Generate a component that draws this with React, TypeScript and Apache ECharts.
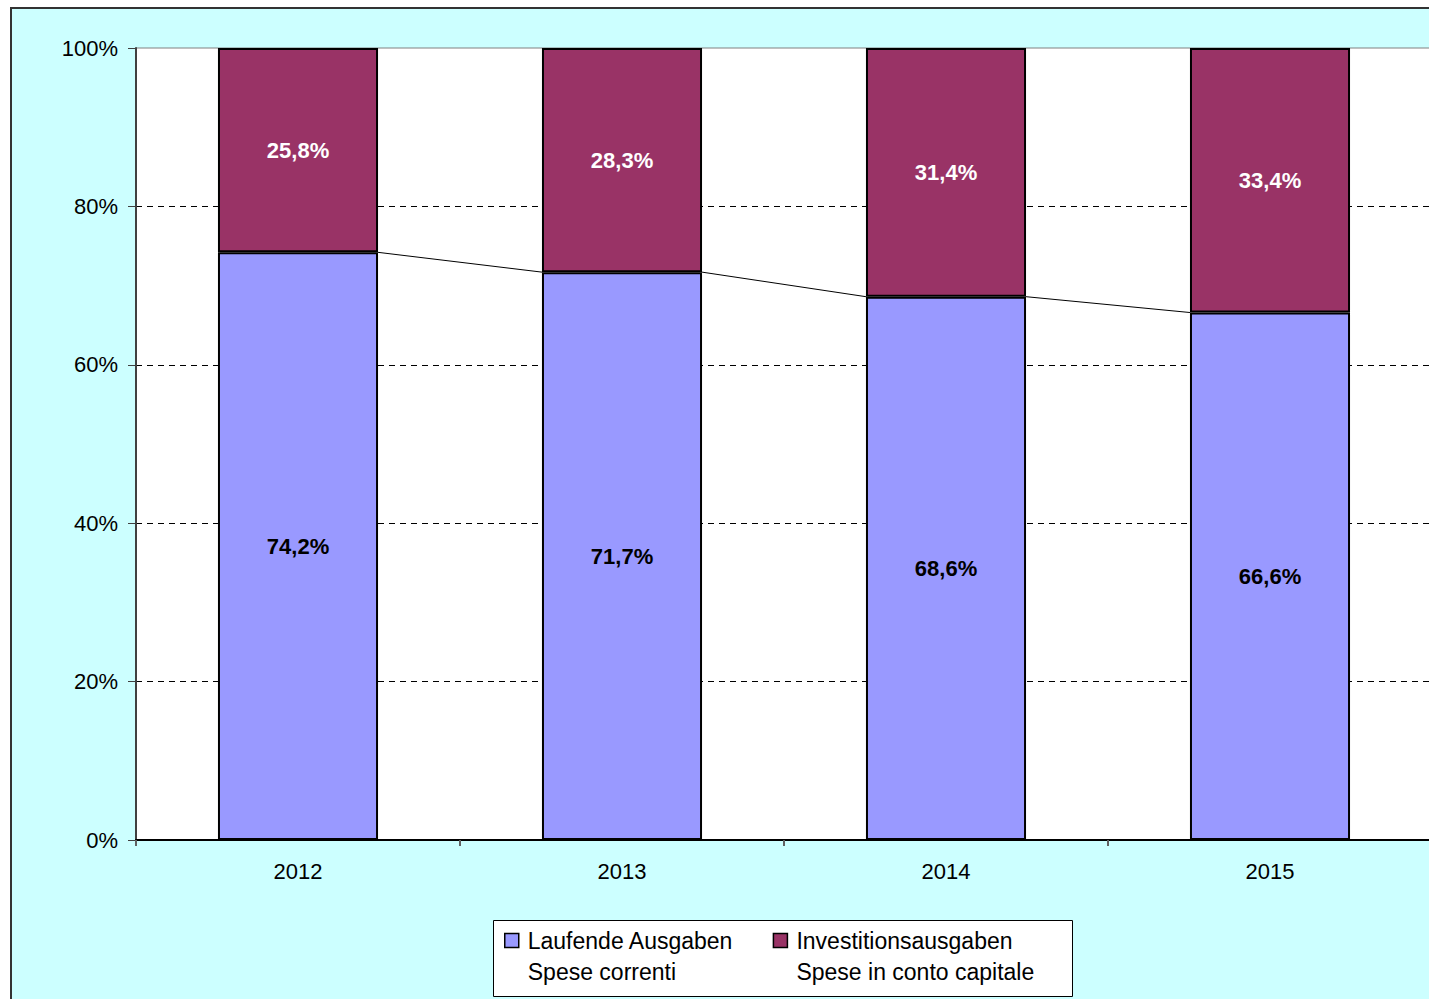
import React, { useEffect, useRef } from "react";
import * as echarts from "echarts";

const categories = ["2012", "2013", "2014", "2015"];
const currentShare = [74.2, 71.7, 68.6, 66.6];
const capitalShare = [25.8, 28.3, 31.4, 33.4];
const seriesNames = [
  "Laufende Ausgaben\nSpese correnti",
  "Investitionsausgaben\nSpese in conto capitale",
];
const yTicks = { min: 0, max: 100, interval: 20 };

const FONT = "'Liberation Sans', Arial, sans-serif";
const BAR_RATIO = 0.494;

export default function App() {
  const ref = useRef<HTMLDivElement>(null);
  useEffect(() => {
    if (!ref.current) return;
    const chart = echarts.init(ref.current, undefined, { renderer: "svg" });
    const fmt = (v: number) => v.toFixed(1).replace(".", ",") + "%";
    chart.setOption({
      animation: false,
      backgroundColor: "#ffffff",
      textStyle: { fontFamily: FONT },
      graphic: [
        {
          type: "rect",
          z: -10,
          silent: true,
          shape: { x: 11, y: 8, width: 1460, height: 1020 },
          style: { fill: "#CCFFFF", stroke: "#333333", lineWidth: 2 },
        },
        {
          type: "rect",
          z: -5,
          silent: true,
          shape: { x: 493.5, y: 920.5, width: 579, height: 76 },
          style: { fill: "#ffffff", stroke: "#000000", lineWidth: 1 },
        },
      ],
      grid: {
        left: 136,
        top: 48,
        width: 1296,
        height: 792,
        show: true,
        backgroundColor: "#ffffff",
        borderColor: "#808080",
        borderWidth: 1,
      },
      legend: {
        data: seriesNames,
        left: 504,
        top: 894,
        padding: 0,
        itemGap: 39,
        itemWidth: 14,
        itemHeight: 14,
        icon: "rect",
        itemStyle: { borderColor: "#000", borderWidth: 1.5 },
        formatter: (name: string) =>
          "{e| }\n" + name.split("\n").map((s) => "{t|" + s + "}").join("\n"),
        textStyle: {
          fontFamily: FONT,
          fontSize: 23,
          lineHeight: 31,
          color: "#000",
          rich: {
            e: { fontSize: 23, lineHeight: 31, fontFamily: FONT, padding: [0, 0, 0, 4] },
            t: { fontSize: 23, lineHeight: 31, fontFamily: FONT, color: "#000", padding: [0, 0, 0, 4] },
          },
        },
      },
      xAxis: {
        type: "category",
        data: categories,
        axisLine: { lineStyle: { color: "#000", width: 2 } },
        axisTick: { show: true, length: 6, lineStyle: { color: "#606060", width: 2 } },
        axisLabel: { color: "#000", fontSize: 22, margin: 20, fontFamily: FONT },
        splitLine: { show: false },
      },
      yAxis: {
        type: "value",
        min: yTicks.min,
        max: yTicks.max,
        interval: yTicks.interval,
        axisLine: { show: true, lineStyle: { color: "#404040", width: 2 } },
        axisTick: { show: true, length: 8, lineStyle: { color: "#404040", width: 1 } },
        axisLabel: {
          color: "#000",
          fontSize: 22,
          margin: 18,
          fontFamily: FONT,
          formatter: "{value}%",
        },
        splitLine: {
          show: true,
          showMinLine: false,
          showMaxLine: false,
          lineStyle: { color: "#000", type: [6, 5], width: 1 },
        },
      },
      series: [
        {
          name: seriesNames[0],
          type: "bar",
          stack: "total",
          barWidth: BAR_RATIO * 100 + "%",
          data: currentShare,
          itemStyle: { color: "#9999FF", borderColor: "#000", borderWidth: 2 },
          label: {
            show: true,
            position: "inside",
            color: "#000",
            fontWeight: "bold",
            fontSize: 22,
            fontFamily: FONT,
            formatter: (p: any) => fmt(p.value),
          },
        },
        {
          name: seriesNames[1],
          type: "bar",
          stack: "total",
          barWidth: BAR_RATIO * 100 + "%",
          data: capitalShare,
          itemStyle: { color: "#993366", borderColor: "#000", borderWidth: 2 },
          label: {
            show: true,
            position: "inside",
            color: "#fff",
            fontWeight: "bold",
            fontSize: 22,
            fontFamily: FONT,
            formatter: (p: any) => fmt(p.value),
          },
        },
        {
          name: "seriesLines",
          type: "custom",
          silent: true,
          z: 1,
          data: currentShare.map((v, i) => [i, v]),
          encode: { x: 0, y: 1 },
          renderItem: (params: any, api: any) => {
            const i = params.dataIndex;
            if (i >= currentShare.length - 1) return { type: "group", children: [] };
            const p1 = api.coord([i, currentShare[i]]);
            const p2 = api.coord([i + 1, currentShare[i + 1]]);
            const half = (api.size([1, 0])[0] * BAR_RATIO) / 2;
            return {
              type: "line",
              shape: { x1: p1[0] + half, y1: p1[1], x2: p2[0] - half, y2: p2[1] },
              style: { stroke: "#000", lineWidth: 1 },
            };
          },
        },
      ],
    });
    return () => chart.dispose();
  }, []);
  return (
    <div
      style={{
        position: "fixed",
        left: 0,
        top: 0,
        width: 1429,
        height: 999,
        overflow: "hidden",
        background: "#fff",
      }}
    >
      <div ref={ref} style={{ width: 1450, height: 1010 }} />
    </div>
  );
}
